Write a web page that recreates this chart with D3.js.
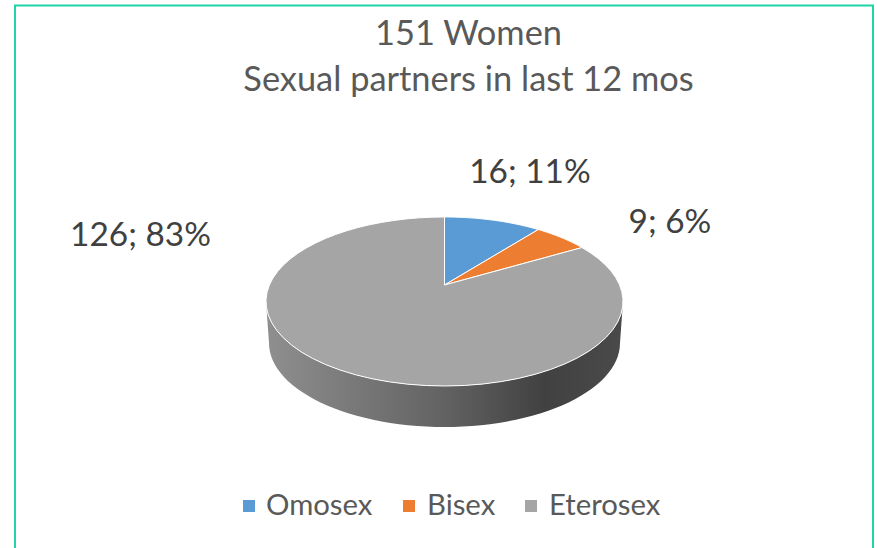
<!DOCTYPE html>
<html>
<head>
<meta charset="utf-8">
<script src="https://cdn.jsdelivr.net/npm/d3@7"></script>
<style>
  html, body { margin: 0; background: #fff; }
  svg { display: block; }
  text { font-family: Lato, "Open Sans", sans-serif; }
</style>
</head>
<body>
<div class="chart"></div>
<script>
const titleLines = ["151 Women", "Sexual partners in last 12 mos"];
const categories = ["Omosex", "Bisex", "Eterosex"];
const counts = [16, 9, 126];
const percents = ["11%", "6%", "83%"];
const colors = ["#5b9bd5", "#ed7d31", "#a5a5a5"];

const w = 877;
const h = 548;

const svg = d3
  .select(".chart")
  .append("svg")
  .attr("width", w)
  .attr("height", h);

// frame, the bottom edge runs off the picture
svg
  .append("path")
  .attr("d", `M15,${h + 5}V5.5H873V${h + 5}`)
  .attr("fill", "none")
  .attr("stroke", "#1fd5a8")
  .attr("stroke-width", 2);

svg
  .selectAll(".title")
  .data(titleLines)
  .enter()
  .append("text")
  .attr("class", "title")
  .attr("x", 468.5)
  .attr("y", (d, i) => 45 + i * 46)
  .attr("text-anchor", "middle")
  .attr("font-size", 34.4)
  .attr("fill", "#595959")
  .text((d) => d);

// the disc is tilted, so the apex sits above the middle of the ellipse
const apexX = 444.5;
const apexY = 285;
const tilt = -0.195;
const discX = 175.1;
const discY = 81.3;

function project(angle) {
  const u = Math.sin(angle);
  const v = -Math.cos(angle);
  const d = 1 + tilt * v;
  return [apexX + (discX * u) / d, apexY + (discY * v) / d];
}

const color = d3.scaleOrdinal().domain(categories).range(colors);
const slices = d3.pie().sort(null)(counts);
const line = d3.line();

function slicePath(s) {
  const angles = d3.range(0, 61).map((i) => s.startAngle + ((s.endAngle - s.startAngle) * i) / 60);
  return line([[apexX, apexY], ...angles.map(project)]) + "Z";
}

// side wall of the disc
const grad = svg
  .append("defs")
  .append("linearGradient")
  .attr("id", "wall")
  .attr("gradientUnits", "userSpaceOnUse")
  .attr("x1", 266)
  .attr("x2", 623)
  .attr("y1", 0)
  .attr("y2", 0);
[
  [0, "#8f8f8f"],
  [0.5, "#626262"],
  [0.78, "#414141"],
  [1, "#4a4a4a"],
].forEach((d) => grad.append("stop").attr("offset", d[0]).attr("stop-color", d[1]));

const rimCx = apexX;
const rimCy = 301.5;
const rimRx = 178.5;
const rimRy = 84.5;
const wallDrop = 41.5;
const wallInset = 3;

function wallPath() {
  const ts = d3.range(0, 61).map((i) => (Math.PI * i) / 60);
  const upper = ts.map((t) => [rimCx + rimRx * Math.cos(t), rimCy + rimRy * Math.sin(t)]);
  const lower = ts
    .slice()
    .reverse()
    .map((t) => [
      rimCx + (rimRx - wallInset) * Math.cos(t),
      rimCy + wallDrop + (rimRy - 0.5) * Math.sin(t),
    ]);
  return line([...upper, ...lower]) + "Z";
}

svg.append("path").attr("d", wallPath()).attr("fill", "url(#wall)");

svg
  .selectAll(".slice")
  .data(slices)
  .enter()
  .append("path")
  .attr("class", "slice")
  .attr("d", slicePath)
  .attr("fill", (d, i) => color(categories[i]))
  .attr("stroke", "#fff")
  .attr("stroke-width", 1)
  .attr("stroke-linejoin", "round");

const labelX = [530, 670, 140.5];
const labelY = [183, 232.5, 246];

svg
  .selectAll(".label")
  .data(counts)
  .enter()
  .append("text")
  .attr("class", "label")
  .attr("x", (d, i) => labelX[i])
  .attr("y", (d, i) => labelY[i])
  .attr("text-anchor", "middle")
  .attr("font-size", 33.4)
  .attr("fill", "#404040")
  .text((d, i) => `${d}; ${percents[i]}`);

// legend
const legendX = [243, 403, 525];
const legend = svg
  .selectAll(".legend")
  .data(categories)
  .enter()
  .append("g")
  .attr("class", "legend")
  .attr("transform", (d, i) => `translate(${legendX[i]},500)`);

legend
  .append("rect")
  .attr("width", 12)
  .attr("height", 12)
  .attr("fill", (d) => color(d));

legend
  .append("text")
  .attr("x", (d, i) => (i == 0 ? 23 : 24))
  .attr("y", 15)
  .attr("font-size", 29.3)
  .attr("fill", "#595959")
  .text((d) => d);
</script>
</body>
</html>
